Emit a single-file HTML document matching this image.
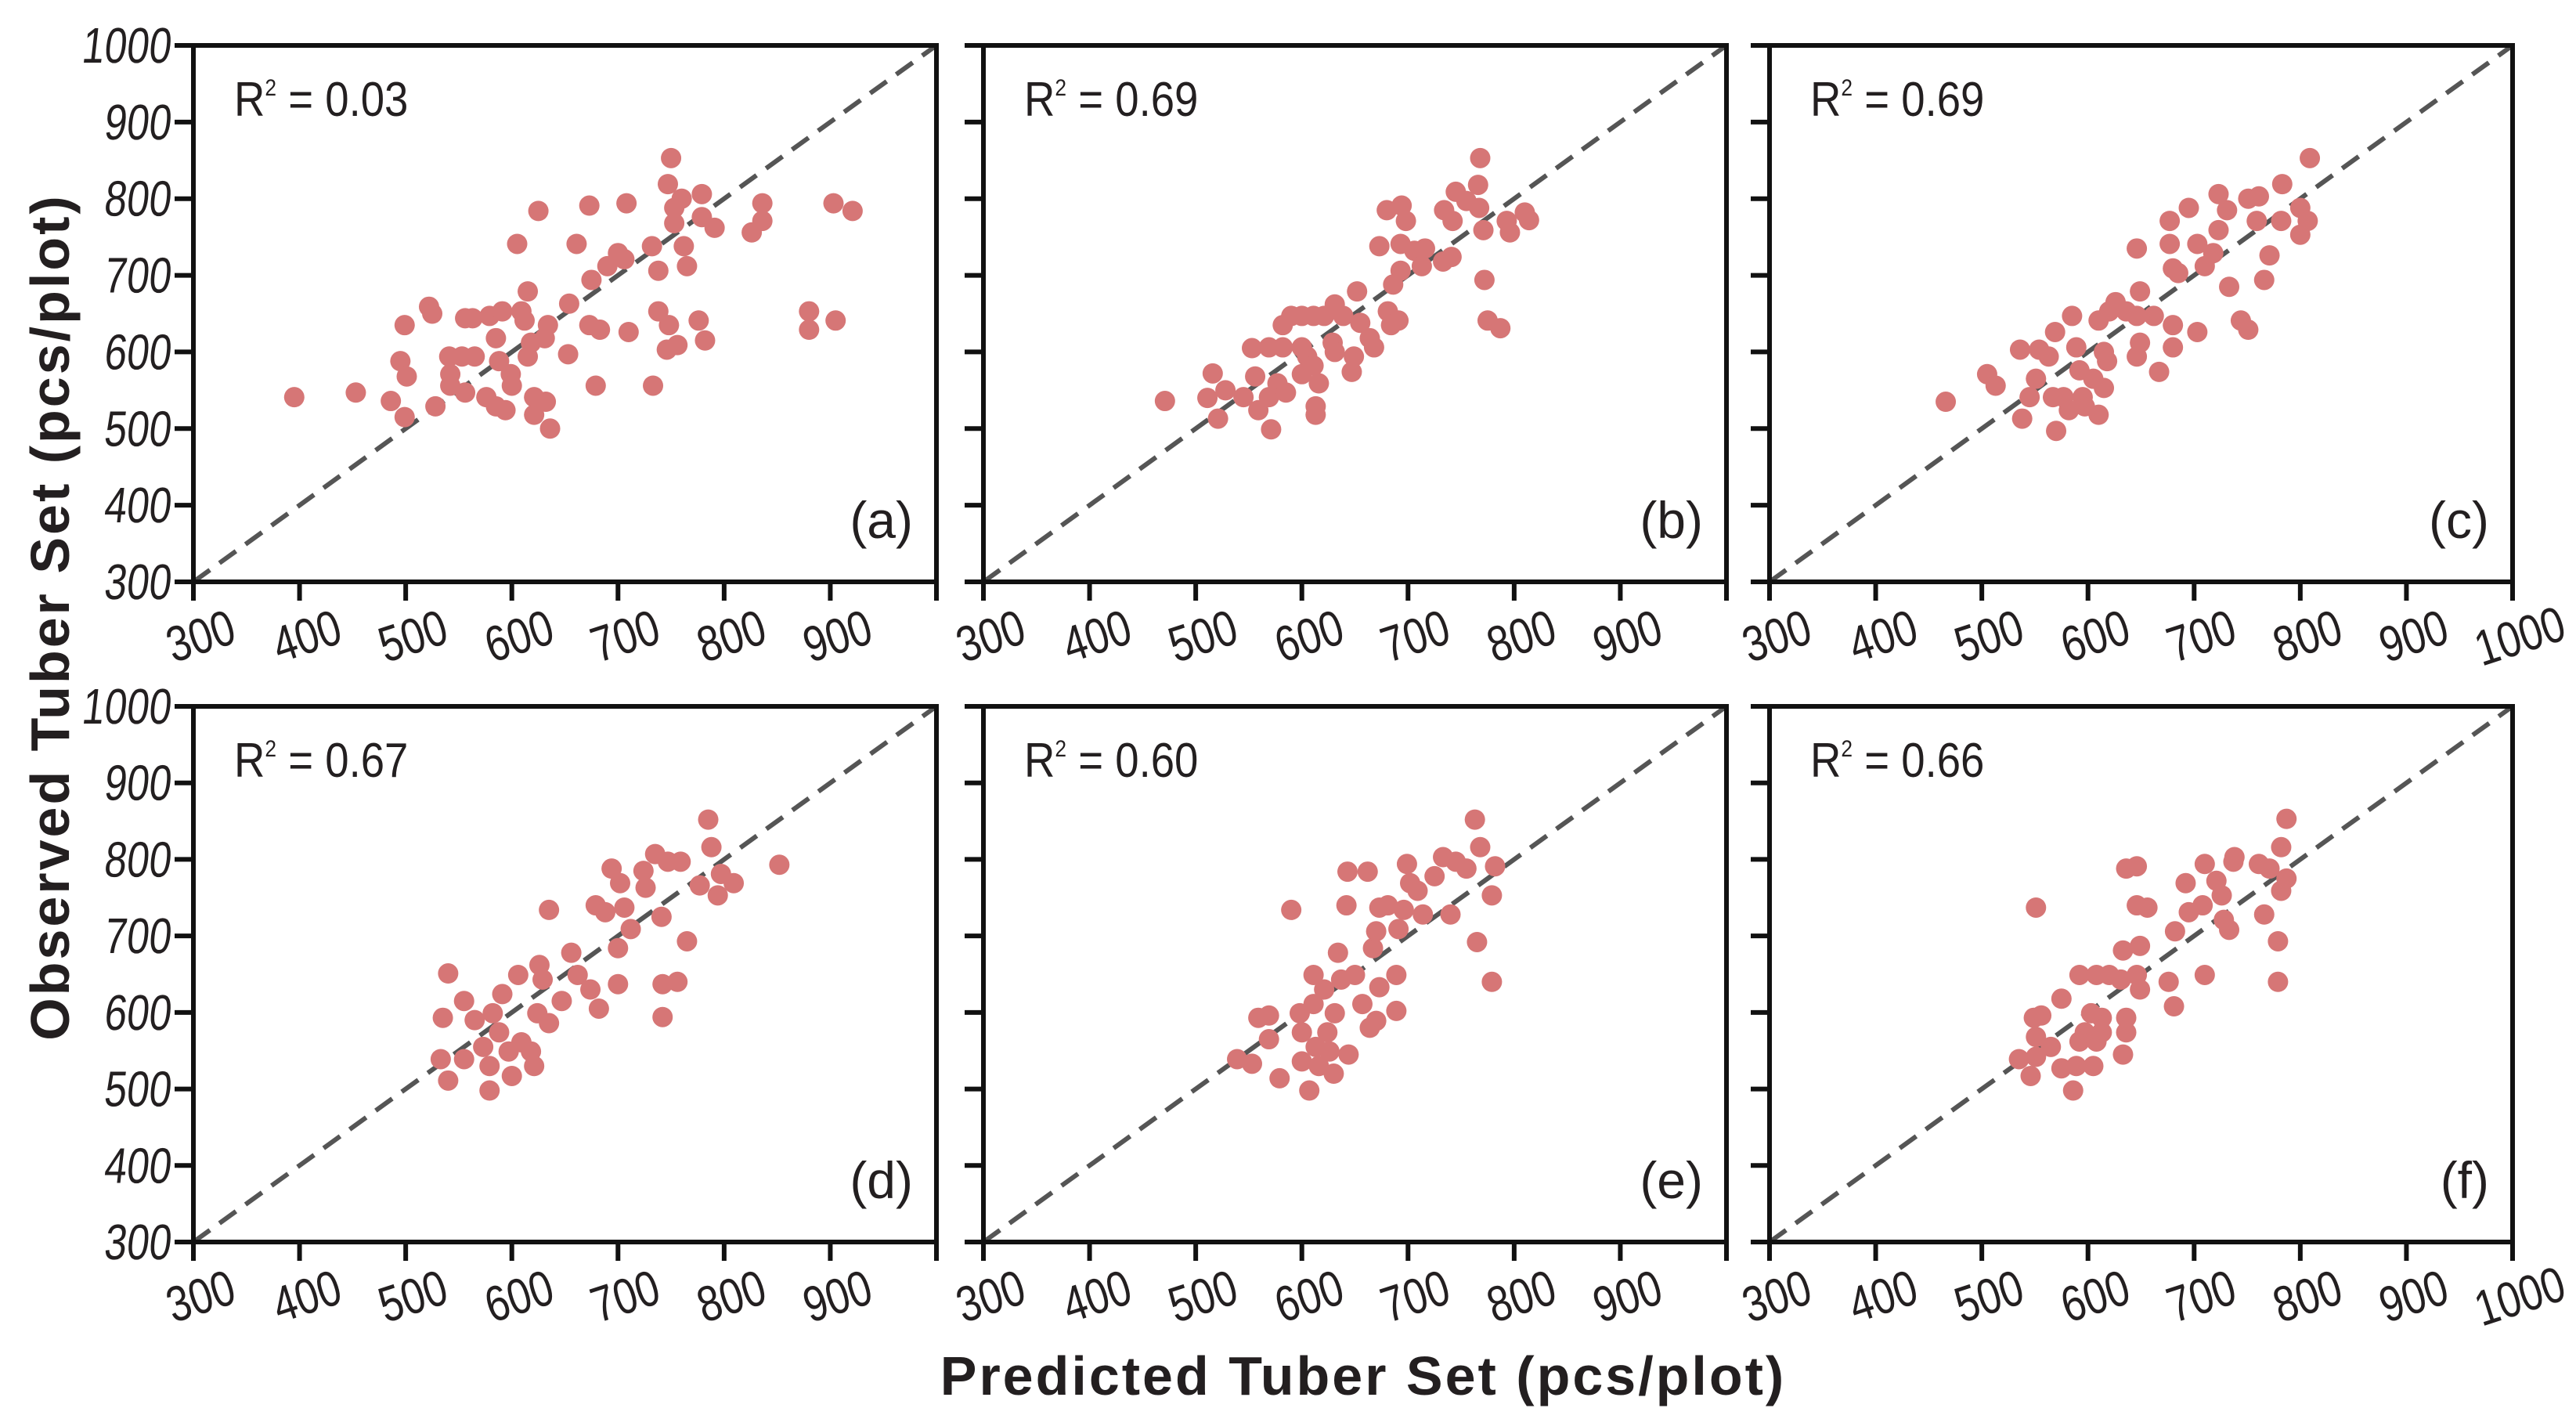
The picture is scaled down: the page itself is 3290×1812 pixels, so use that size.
<!DOCTYPE html>
<html><head><meta charset="utf-8">
<style>
html,body{margin:0;padding:0;background:#fff;}
svg{display:block;}
text{font-family:"Liberation Sans",sans-serif;fill:#231f20;}
</style></head>
<body>
<svg id="chart" width="3290" height="1812" viewBox="0 0 3290 1812" xmlns="http://www.w3.org/2000/svg">
<text transform="translate(88,788) rotate(-90)" text-anchor="middle" font-size="70" font-weight="bold" letter-spacing="3">Observed Tuber Set (pcs/plot)</text>
<text x="1741" y="1781" text-anchor="middle" font-size="70" font-weight="bold" letter-spacing="3">Predicted Tuber Set (pcs/plot)</text>
</svg>
<script>
const panelLabels = ['(a)','(b)','(c)','(d)','(e)','(f)'];
const r2Values = ['0.03','0.69','0.69','0.67','0.60','0.66'];
const xTicks = [300,400,500,600,700,800,900,1000];
const yTicks = [300,400,500,600,700,800,900,1000];
const xTickLabelsShort = ['300','400','500','600','700','800','900'];
const xTickLabelsLong = ['300','400','500','600','700','800','900','1000'];
const yTickLabels = ['300','400','500','600','700','800','900','1000'];

const predA = [395,453,486,499,495,501,499,522,525,528,541,542,542,556,556,563,553,565,579,591,585,588,576,585,594,599,600,609,612,615,618,615,621,621,632,631,634,636,605,625,653,654,661,673,675,679,673,683,690,700,706,708,710,733,732,738,738,748,746,756,750,747,753,760,753,762,765,776,782,779,779,791,826,836,836,880,880,905,903,921];
const obsA  = [541,547,536,515,588,568,635,659,650,529,594,571,556,547,644,644,594,594,647,653,618,588,541,529,524,571,556,653,641,679,612,594,541,518,535,618,635,500,741,784,597,663,741,791,694,556,635,629,712,729,721,794,626,556,738,706,653,635,603,609,853,819,788,800,768,738,712,641,615,806,776,762,756,794,771,653,629,641,794,784];
const predB = [471,511,516,521,528,545,553,556,559,569,571,569,577,582,582,585,590,600,611,600,605,600,611,616,613,613,621,631,639,629,631,649,647,652,655,664,668,681,684,691,686,693,673,680,694,698,693,706,716,713,733,741,734,742,745,755,766,768,767,771,772,775,787,793,796,810,814];
const obsB  = [536,540,572,513,550,541,605,568,524,606,499,541,559,635,606,547,647,647,647,606,594,571,582,559,529,518,647,662,647,612,600,594,574,679,638,618,606,653,635,641,688,706,738,785,791,771,741,732,735,712,718,724,785,771,809,797,818,853,788,759,694,641,631,771,756,782,772];
const predC = [466,505,513,538,536,545,551,554,563,567,569,570,577,582,585,589,592,595,597,605,610,615,618,615,610,620,626,636,646,649,649,646,662,667,646,677,677,680,685,680,680,695,703,703,710,718,723,723,731,733,744,751,751,761,759,771,766,783,782,800,800,807,809];
const obsC  = [535,571,556,513,603,541,565,603,594,541,626,497,541,524,647,606,576,541,529,565,518,553,588,600,641,653,665,653,647,679,612,594,647,574,735,771,741,709,703,635,606,788,741,626,712,729,759,806,785,685,641,629,800,803,771,726,694,819,771,788,753,771,853];
const predD = [540,535,540,533,555,555,565,573,579,579,582,591,588,597,600,606,609,618,621,624,626,635,635,629,647,656,662,674,682,679,688,694,700,700,702,706,712,724,726,735,741,742,742,756,747,759,765,777,785,788,797,794,809,852];
const obsD  = [651,593,511,539,615,539,590,555,498,530,599,624,574,549,517,649,561,549,530,599,662,586,734,643,615,678,649,630,605,740,731,788,684,637,769,737,709,785,763,807,725,637,594,640,797,797,693,766,852,816,781,753,769,793];
const predE = [539,553,559,569,569,579,590,598,600,600,607,611,611,613,616,621,624,626,630,631,634,637,644,642,643,650,657,664,670,667,670,673,673,681,689,691,696,699,702,709,714,725,733,740,745,755,763,768,765,779,779,782,662,689];
const obsE  = [539,533,593,596,565,514,734,599,574,536,498,649,611,555,530,630,574,549,520,599,678,643,545,740,784,649,611,580,589,684,706,633,737,740,602,709,734,794,769,759,728,778,803,728,797,788,852,816,692,640,753,791,784,649];
const predF = [551,535,546,551,551,549,556,565,575,575,586,589,592,592,597,605,608,613,613,603,608,620,631,633,633,636,636,646,649,649,636,646,646,656,676,681,682,692,695,708,710,710,721,726,728,733,737,738,761,766,779,779,782,782,787,787,771];
const obsF  = [737,539,517,542,568,593,596,555,618,527,498,530,562,649,574,530,562,574,593,599,649,649,643,681,545,574,593,649,630,687,788,791,740,737,640,608,706,769,731,740,649,794,772,753,721,708,797,803,794,728,693,640,816,759,775,853,788];

const preds = [predA,predB,predC,predD,predE,predF];
const obss  = [obsA,obsB,obsC,obsD,obsE,obsF];

const panels = [
  {l:247,r:1196,t:58,b:743},{l:1256,r:2205,t:58,b:743},{l:2260,r:3209,t:58,b:743},
  {l:247,r:1196,t:902,b:1586},{l:1256,r:2205,t:902,b:1586},{l:2260,r:3209,t:902,b:1586}
];
const NS='http://www.w3.org/2000/svg';
const svg=document.getElementById('chart');
function mk(tag,attrs,parent){const e=document.createElementNS(NS,tag);for(const k in attrs)e.setAttribute(k,attrs[k]);(parent||svg).appendChild(e);return e;}
const XMIN=300,XMAX=1000,YMIN=300,YMAX=1000;

panels.forEach((p,i)=>{
  const sx=v=>p.l+(v-XMIN)/(XMAX-XMIN)*(p.r-p.l);
  const sy=v=>p.b-(v-YMIN)/(YMAX-YMIN)*(p.b-p.t);
  const g=mk('g',{});
  
  
  const dl=mk('line',{x1:sx(300),y1:sy(300),x2:sx(1000),y2:sy(1000),stroke:'#555','stroke-width':6,'stroke-dasharray':'26 15'},g);
  
  
  const P=preds[i],O=obss[i];
  for(let k=0;k<P.length;k++){
    const c=mk('circle',{cx:sx(P[k]),cy:sy(O[k]),r:13,fill:'#d67676'},g);
    
    
  }
  const fr=mk('rect',{x:p.l,y:p.t,width:p.r-p.l,height:p.b-p.t,fill:'none',stroke:'#111','stroke-width':6},g);
  
  
  yTicks.forEach((v,j)=>{
    const t=mk('line',{x1:p.l-24,x2:p.l,y1:sy(v),y2:sy(v),stroke:'#111','stroke-width':6},g);
    
    
    if(i===0||i===3){
      const tx=mk('text',{'font-size':64,'text-anchor':'end',transform:`translate(${p.l-30},${sy(v)+22}) scale(0.8,1) skewX(-8)`},g);
      tx.textContent=yTickLabels[j];
      
      
    }
  });
  const labs=(i===2||i===5)?xTickLabelsLong:xTickLabelsShort;
  xTicks.forEach((v,j)=>{
    const t=mk('line',{x1:sx(v),x2:sx(v),y1:p.b,y2:p.b+24,stroke:'#111','stroke-width':6},g);
    
    
    if(j<labs.length){
      const cx=sx(v)+16, cy=p.b+90;
      const tx=mk('text',{'font-size':64,'text-anchor':'middle',transform:`translate(${cx},${cy}) rotate(-18) scale(0.82,1)`},g);
      tx.textContent=labs[j];
      
      
    }
  });
  const r=mk('text',{'font-size':62,transform:`translate(${p.l+52},${p.t+90}) scale(0.88,1)`},g);
  
  
  const t1=mk('tspan',{},r);t1.textContent='R';
  const t2=mk('tspan',{'font-size':30,dy:-26},r);t2.textContent='2';
  const t3=mk('tspan',{dy:26},r);t3.textContent=' = '+r2Values[i];
  const pl=mk('text',{'font-size':66,'text-anchor':'end',x:p.r-30,y:p.b-56},g);
  pl.textContent=panelLabels[i];
  
  
});
</script>
</body></html>
